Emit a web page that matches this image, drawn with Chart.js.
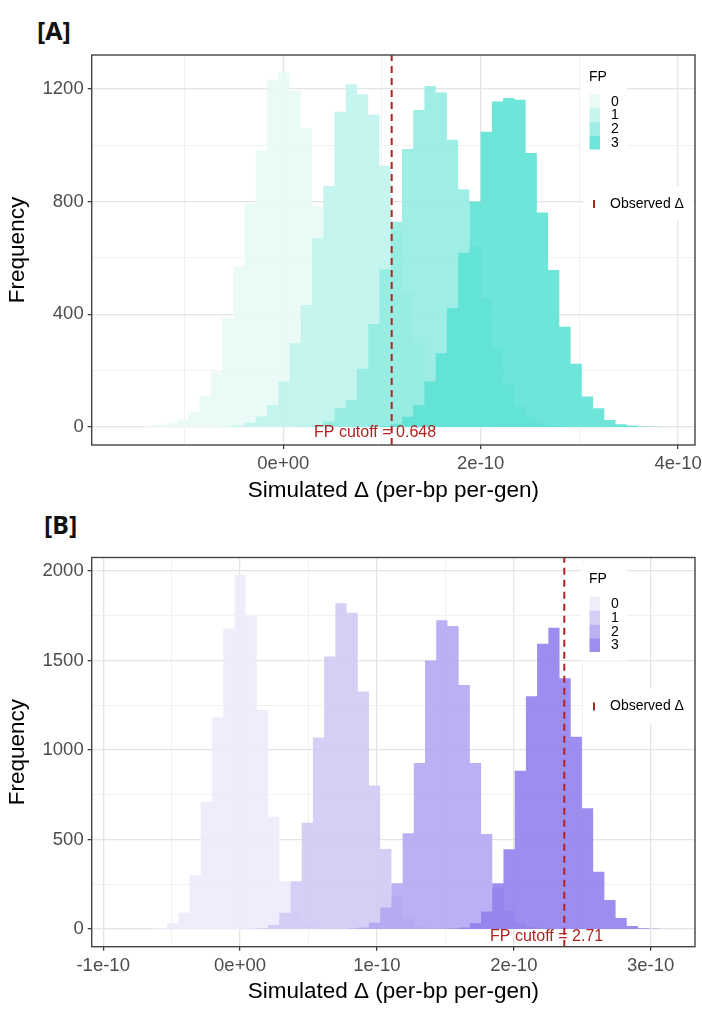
<!DOCTYPE html>
<html><head><meta charset="utf-8">
<script src="https://cdn.jsdelivr.net/npm/chart.js@4.4.1/dist/chart.umd.min.js"></script>
<style>
html,body{margin:0;padding:0;background:#fff;}
body{width:702px;height:1015px;position:relative;overflow:hidden;}
.tag{position:absolute;font-family:"Noto Sans","Open Sans",sans-serif;font-weight:700;font-size:25px;line-height:30px;color:#111;}
canvas{position:absolute;left:0;}
</style></head><body>
<div class="tag" style="left:37px;top:15px">[A]</div>
<div class="tag" style="left:44px;top:509px">[B]</div>
<canvas id="cA" width="702" height="460" style="top:48px"></canvas>
<canvas id="cB" width="702" height="464" style="top:548px"></canvas>
<script>
// ---------- data ----------
const groups = ['0', '1', '2', '3'];

// Panel A (bin centres, per-bp per-gen)
const binsA = [-1.4747e-10,-1.3608e-10,-1.2469e-10,-1.1330e-10,-1.0191e-10,-0.9052e-10,-0.7913e-10,-0.6774e-10,-0.5635e-10,-0.4496e-10,-0.3357e-10,-0.2218e-10,-0.1079e-10,0.0060e-10,0.1199e-10,0.2338e-10,0.3477e-10,0.4616e-10,0.5755e-10,0.6894e-10,0.8033e-10,0.9172e-10,1.0311e-10,1.1450e-10,1.2589e-10,1.3728e-10,1.4867e-10,1.6006e-10,1.7145e-10,1.8284e-10,1.9423e-10,2.0562e-10,2.1701e-10,2.2840e-10,2.3979e-10,2.5118e-10,2.6257e-10,2.7396e-10,2.8535e-10,2.9674e-10,3.0813e-10,3.1952e-10,3.3091e-10,3.4230e-10,3.5369e-10,3.6508e-10,3.7647e-10,3.8786e-10];
const fp0A = [0,3,7,15,27,51,108,196,386,569,792,981,1232,1258,1193,1060,782,575,380,205,108,52,24,10,4,1,0,0,0,0,0,0,0,0,0,0,0,0,0,0,0,0,0,0,0,0,0,0];
const fp1A = [0,0,0,0,0,0,0,0,1,5,15,37,78,161,297,433,670,855,1119,1216,1181,1108,927,700,480,300,175,90,45,20,8,3,1,0,0,0,0,0,0,0,0,0,0,0,0,0,0,0];
const fp2A = [0,0,0,0,0,0,0,0,0,0,0,0,0,0,0,1,5,19,66,96,207,365,560,728,986,1125,1210,1187,1019,844,640,457,280,150,75,35,15,6,2,0,0,0,0,0,0,0,0,0];
const fp3A = [0,0,0,0,0,0,0,0,0,0,0,0,0,0,0,0,0,0,0,0,0,1,3,10,36,78,161,262,421,618,800,1048,1155,1167,1161,972,761,557,356,224,108,66,25,10,5,2,1,0];
const observedA = 1.098e-10;
const cutoffTextA = 'FP cutoff = 0.648';
const xMajorA = [0, 2e-10, 4e-10];
const xLabelsA = ['0e+00', '2e-10', '4e-10'];
const xMinorA = [-1e-10, 1e-10, 3e-10];
const yMajorA = [0, 400, 800, 1200];
const yLabelsA = ['0', '400', '800', '1200'];
const yMinorA = [200, 600, 1000];

// Panel B
const binsB = [-0.7371e-10,-0.6552e-10,-0.5733e-10,-0.4914e-10,-0.4095e-10,-0.3276e-10,-0.2457e-10,-0.1638e-10,-0.0819e-10,0,0.0819e-10,0.1638e-10,0.2457e-10,0.3276e-10,0.4095e-10,0.4914e-10,0.5733e-10,0.6552e-10,0.7371e-10,0.8190e-10,0.9009e-10,0.9828e-10,1.0647e-10,1.1466e-10,1.2285e-10,1.3104e-10,1.3923e-10,1.4742e-10,1.5561e-10,1.6380e-10,1.7199e-10,1.8018e-10,1.8837e-10,1.9656e-10,2.0475e-10,2.1294e-10,2.2113e-10,2.2932e-10,2.3751e-10,2.4570e-10,2.5389e-10,2.6208e-10,2.7027e-10,2.7846e-10,2.8665e-10,2.9484e-10,3.0303e-10,3.1122e-10];
const fp0B = [0,1,5,32,91,302,711,1181,1679,1978,1750,1223,627,266,95,28,7,2,0,0,0,0,0,0,0,0,0,0,0,0,0,0,0,0,0,0,0,0,0,0,0,0,0,0,0,0,0,0];
const fp1B = [0,0,0,0,0,0,0,0,0,0,1,5,22,91,266,594,1069,1522,1819,1767,1326,802,447,180,60,20,5,1,0,0,0,0,0,0,0,0,0,0,0,0,0,0,0,0,0,0,0,0];
const fp2B = [0,0,0,0,0,0,0,0,0,0,0,0,0,0,0,0,0,0,0,2,8,35,120,255,535,927,1500,1724,1693,1363,927,530,230,100,35,10,3,0,0,0,0,0,0,0,0,0,0,0];
const fp3B = [0,0,0,0,0,0,0,0,0,0,0,0,0,0,0,0,0,0,0,0,0,0,0,0,0,0,0,0,2,8,32,97,255,446,884,1300,1593,1682,1400,1074,674,320,162,62,16,4,1,0];
const observedB = 2.369e-10;
const cutoffTextB = 'FP cutoff = 2.71';
const xMajorB = [-1e-10, 0, 1e-10, 2e-10, 3e-10];
const xLabelsB = ['-1e-10', '0e+00', '1e-10', '2e-10', '3e-10'];
const xMinorB = [-0.5e-10, 0.5e-10, 1.5e-10, 2.5e-10];
const yMajorB = [0, 500, 1000, 1500, 2000];
const yLabelsB = ['0', '500', '1000', '1500', '2000'];
const yMinorB = [250, 750, 1250, 1750];

// ---------- styling ----------
const FONT = "'Liberation Sans', Arial, Helvetica, sans-serif";
Chart.defaults.font.family = FONT;
const RED = '#B22222';
const GRID_MAJOR = '#e4e4e4';
const GRID_MINOR = '#f1f1f1';
const FILL_ALPHA = 0.9;
const paletteA = [[231,249,246],[191,244,236],[147,236,226],[93,226,213]];
const paletteB = [[237,235,252],[208,202,245],[178,167,242],[145,129,236]];

function rgba(c, a) { return 'rgba(' + c[0] + ',' + c[1] + ',' + c[2] + ',' + a + ')'; }
function idxOf(v, list, tol) { return list.findIndex(m => Math.abs(m - v) <= tol); }

function buildChart(id, P) {
  const datasets = P.series.map((vals, i) => ({
    label: groups[i],
    data: P.bins.map((x, j) => ({ x: x, y: vals[j] })),
    stepped: 'middle', fill: 'origin', borderWidth: 0, borderColor: 'rgba(0,0,0,0)',
    backgroundColor: rgba(P.palette[i], FILL_ALPHA), pointRadius: 0, pointHoverRadius: 0, order: 10 - i
  }));
  datasets.push({
    label: 'Observed Δ',
    data: [{ x: P.observed, y: P.yRange[0] }, { x: P.observed, y: P.yRange[1] }],
    borderColor: RED, borderWidth: 2, borderDash: [7, 5], pointRadius: 0, fill: false, order: 0
  });
  const xTol = 1e-14, yTol = 1e-6;
  const xAll = P.xMajor.concat(P.xMinor).sort((a, b) => a - b);
  const yAll = P.yMajor.concat(P.yMinor).sort((a, b) => a - b);

  const overlay = {
    id: 'overlay',
    afterDraw(chart) {
      const ctx = chart.ctx, a = chart.chartArea, xs = chart.scales.x, ys = chart.scales.y;
      ctx.save();
      // cutoff annotation
      ctx.font = '16px ' + FONT; ctx.fillStyle = RED; ctx.textAlign = 'center'; ctx.textBaseline = 'middle';
      ctx.fillText(P.cutoffText, xs.getPixelForValue(P.cutoffAt[0]), ys.getPixelForValue(P.cutoffAt[1]));
      // legend backgrounds
      ctx.fillStyle = '#ffffff';
      ctx.fillRect(580, a.top + 8, 47, 95);
      ctx.fillRect(583, a.top + 131, 110, 35);
      // FP legend
      ctx.textAlign = 'left'; ctx.fillStyle = '#000'; ctx.font = '14px ' + FONT;
      ctx.fillText('FP', 589, a.top + 22);
      const k0 = a.top + 46.2, ks = 13.8;
      chart.data.datasets.slice(0, 4).forEach((d, i) => {
        const cy = k0 + i * ks;
        ctx.fillStyle = d.backgroundColor; ctx.fillRect(589.5, cy - ks / 2, 10.5, ks);
        ctx.fillStyle = '#000'; ctx.font = '14px ' + FONT; ctx.fillText(d.label, 611, cy + 0.5);
      });
      // observed legend
      const oy = a.top + 149;
      ctx.fillStyle = RED; ctx.fillRect(593, oy - 4, 2, 8);
      ctx.fillStyle = '#000'; ctx.font = '14px ' + FONT; ctx.fillText('Observed Δ', 610, oy);
      // panel border
      ctx.strokeStyle = '#444'; ctx.lineWidth = 1.4;
      ctx.strokeRect(a.left, a.top, a.right - a.left, a.bottom - a.top);
      ctx.restore();
    }
  };

  return new Chart(document.getElementById(id), {
    type: 'line',
    data: { datasets: datasets },
    options: {
      responsive: false, animation: false, events: [],
      layout: { padding: P.pad },
      plugins: { legend: { display: false }, tooltip: { enabled: false } },
      scales: {
        x: {
          type: 'linear', min: P.xRange[0], max: P.xRange[1],
          afterBuildTicks: s => { s.ticks = xAll.map(v => ({ value: v })); },
          afterFit: s => { s.height = P.xAxisH; s.paddingLeft = 0; s.paddingRight = 0; },
          border: { display: false },
          grid: {
            color: c => idxOf(c.tick.value, P.xMajor, xTol) >= 0 ? GRID_MAJOR : GRID_MINOR,
            lineWidth: c => idxOf(c.tick.value, P.xMajor, xTol) >= 0 ? 1.3 : 1,
            tickColor: c => idxOf(c.tick.value, P.xMajor, xTol) >= 0 ? '#333' : 'rgba(0,0,0,0)',
            tickLength: 4, tickWidth: 1.2
          },
          ticks: {
            autoSkip: false, maxRotation: 0, minRotation: 0, padding: 4, color: '#4D4D4D', font: { size: 18.5 },
            callback: v => { const i = idxOf(v, P.xMajor, xTol); return i >= 0 ? P.xLabels[i] : ''; }
          },
          title: { display: true, text: 'Simulated Δ (per-bp per-gen)', color: '#000', font: { size: 22.5, lineHeight: 1.2 }, padding: { top: 0, bottom: 0 } }
        },
        y: {
          type: 'linear', min: P.yRange[0], max: P.yRange[1],
          afterBuildTicks: s => { s.ticks = yAll.map(v => ({ value: v })); },
          afterFit: s => { s.width = P.yAxisW; s.paddingTop = 0; s.paddingBottom = 0; },
          border: { display: false },
          grid: {
            color: c => idxOf(c.tick.value, P.yMajor, yTol) >= 0 ? GRID_MAJOR : GRID_MINOR,
            lineWidth: c => idxOf(c.tick.value, P.yMajor, yTol) >= 0 ? 1.3 : 1,
            tickColor: c => idxOf(c.tick.value, P.yMajor, yTol) >= 0 ? '#333' : 'rgba(0,0,0,0)',
            tickLength: 4, tickWidth: 1.2
          },
          ticks: {
            autoSkip: false, padding: 4, color: '#4D4D4D', font: { size: 18.5 },
            callback: v => { const i = idxOf(v, P.yMajor, yTol); return i >= 0 ? P.yLabels[i] : ''; }
          },
          title: { display: true, text: 'Frequency', color: '#000', font: { size: 22.5, lineHeight: 1.2 }, padding: { top: 4.5, bottom: 0 } }
        }
      }
    },
    plugins: [overlay]
  });
}

buildChart('cA', {
  bins: binsA, series: [fp0A, fp1A, fp2A, fp3A], palette: paletteA,
  observed: observedA, cutoffText: cutoffTextA, cutoffAt: [0.93e-10, -21],
  xRange: [-1.941e-10, 4.171e-10], yRange: [-64, 1320],
  xMajor: xMajorA, xLabels: xLabelsA, xMinor: xMinorA,
  yMajor: yMajorA, yLabels: yLabelsA, yMinor: yMinorA,
  pad: { top: 7, right: 7, bottom: 3.5, left: 0 }, xAxisH: 59.5, yAxisW: 91.7
});
buildChart('cB', {
  bins: binsB, series: [fp0B, fp1B, fp2B, fp3B], palette: paletteB,
  observed: observedB, cutoffText: cutoffTextB, cutoffAt: [2.24e-10, -43],
  xRange: [-1.084e-10, 3.324e-10], yRange: [-99, 2075],
  xMajor: xMajorB, xLabels: xLabelsB, xMinor: xMinorB,
  yMajor: yMajorB, yLabels: yLabelsB, yMinor: yMinorB,
  pad: { top: 9.5, right: 7, bottom: 6.5, left: 0 }, xAxisH: 58.8, yAxisW: 91.7
});
</script></body></html>
